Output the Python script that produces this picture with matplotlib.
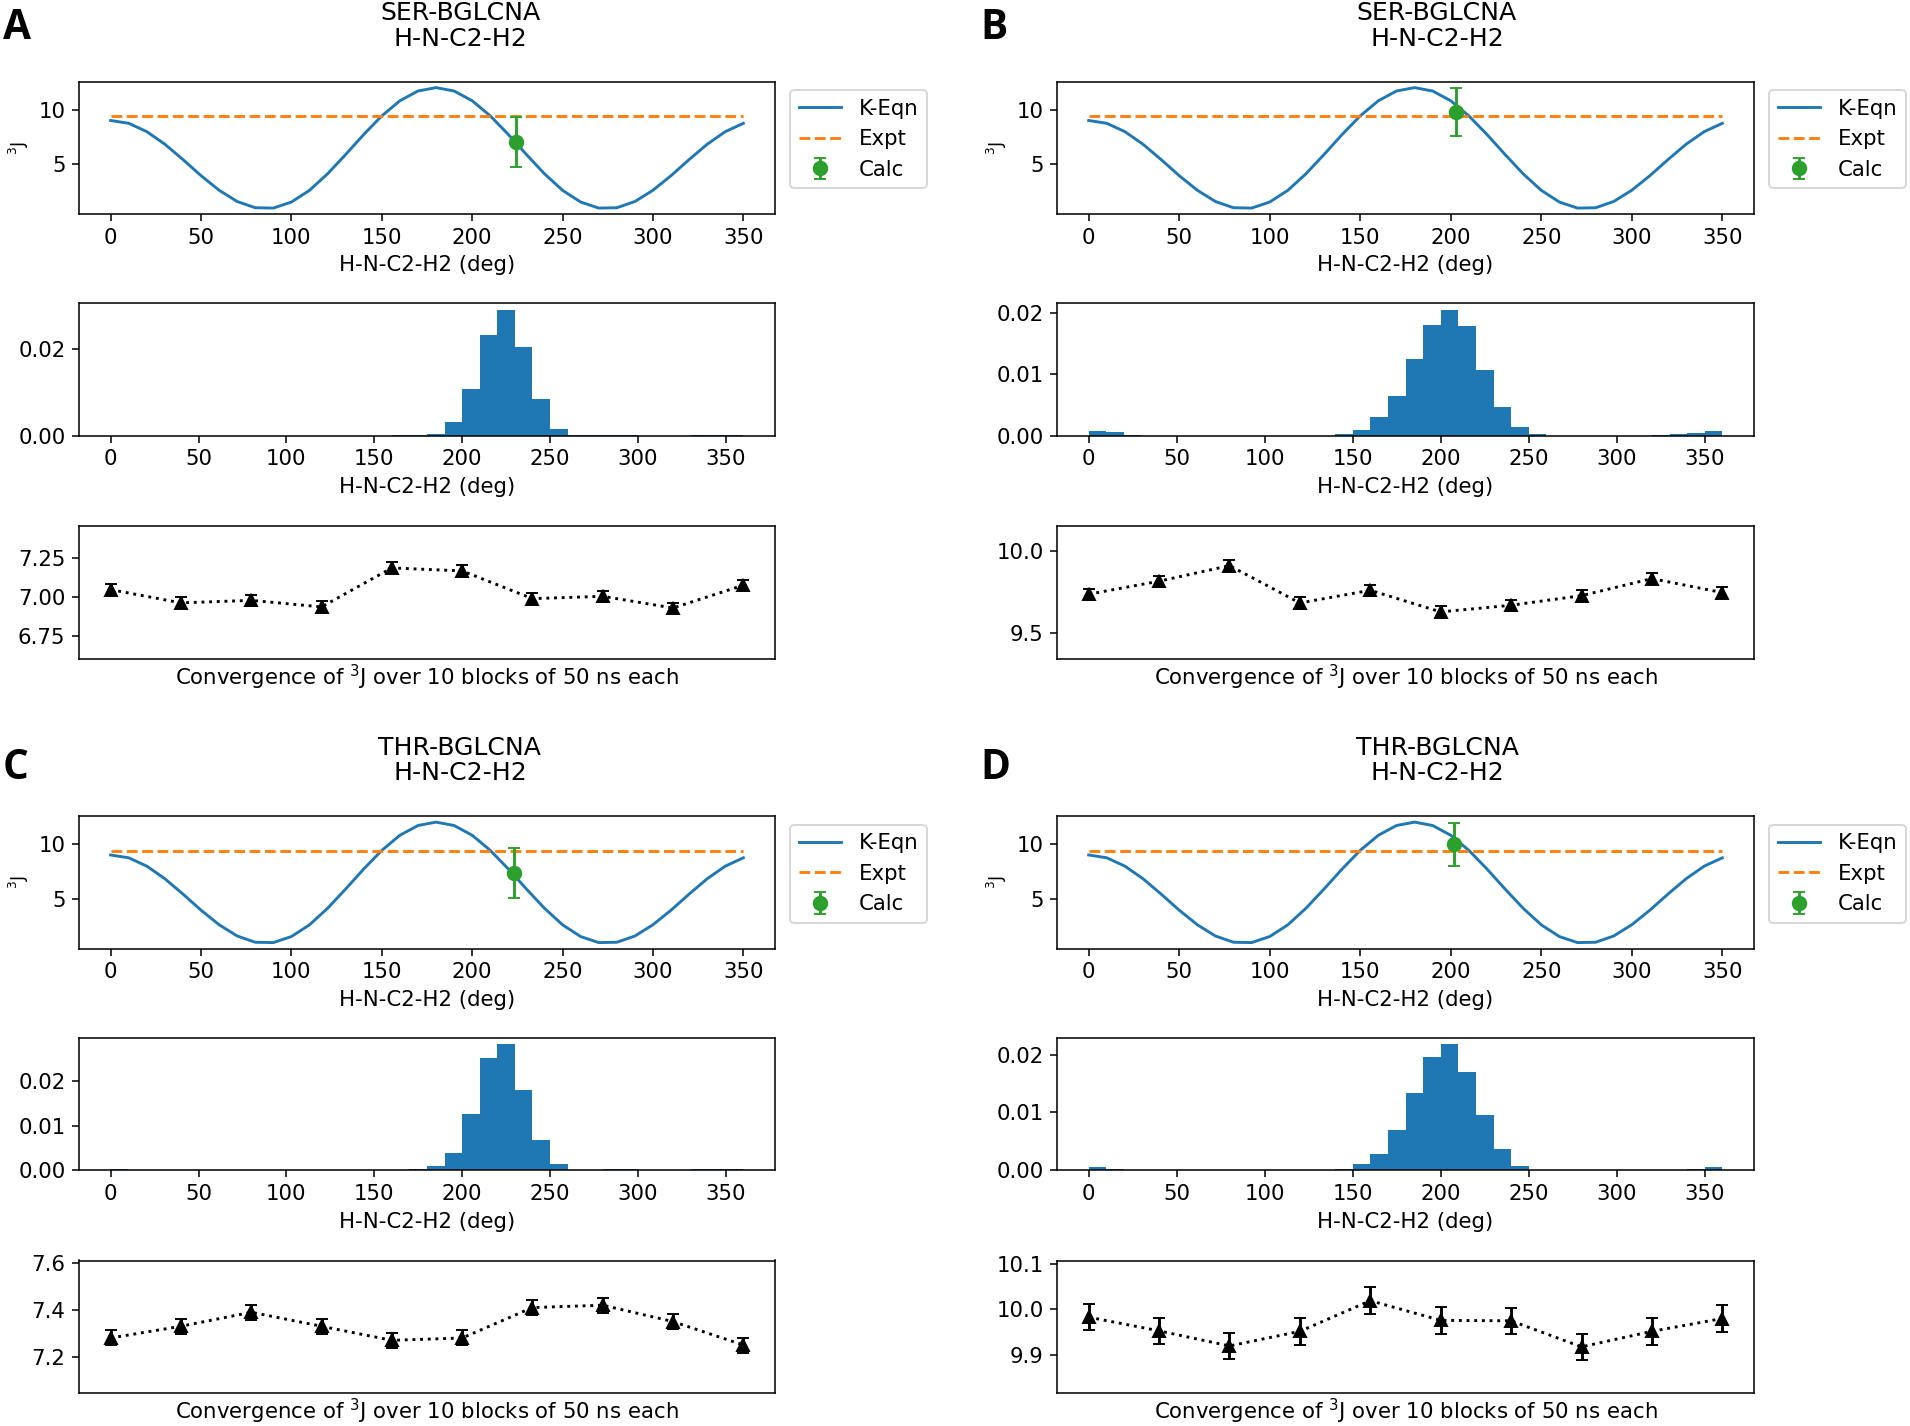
import matplotlib.pyplot as plt
import numpy as np

DPI = 139
W, H = 1910, 1426
plt.rcParams["font.size"] = 11

# ---- data ----
angles = np.arange(0, 360, 10)
bin_edges = np.arange(0, 370, 10)
blocks = np.arange(10)

# Karplus curve sampled every 10 deg
karplus_j = [9.00, 8.74, 7.98, 6.83, 5.43, 3.96, 2.63, 1.60, 1.03, 1.00,
             1.55, 2.62, 4.13, 5.89, 7.72, 9.42, 10.80, 11.69, 12.00, 11.69,
             10.80, 9.42, 7.72, 5.89, 4.13, 2.62, 1.55, 1.00, 1.03, 1.60,
             2.63, 3.96, 5.43, 6.83, 7.98, 8.74]
expt_j = 9.4

panel_letters = ["A", "B", "C", "D"]
residues = ["SER-BGLCNA", "SER-BGLCNA", "THR-BGLCNA", "THR-BGLCNA"]
torsion = "H-N-C2-H2"

calc_angle = [224, 203, 223, 202]
calc_j = [7.03, 9.78, 7.33, 9.96]
calc_err = [2.3, 2.17, 2.3, 2.0]

# normalised histograms, 10 deg bins 0..360
hist_A = [0, 0, 0, 0, 0, 0, 0, 0, 0, 0,
          0, 0, 0, 0, 0, 0, 0.0001, 0.0002, 0.0005, 0.0031,
          0.0107, 0.0232, 0.0290, 0.0205, 0.0084, 0.0015, 0.0002, 0.0001, 0.0001, 0.0001,
          0, 0, 0, 0.0001, 0.0002, 0.0001]
hist_B = [0.0007, 0.00055, 0.0001, 0, 0, 0, 0, 0, 0, 0,
          0, 0, 0, 0, 0.0003, 0.0010, 0.0030, 0.0065, 0.0124, 0.0180,
          0.0205, 0.0178, 0.0107, 0.0046, 0.0014, 0.0003, 0, 0, 0, 0,
          0, 0, 0.0001, 0.0003, 0.0004, 0.0008]
hist_C = [0.0002, 0, 0, 0, 0, 0, 0, 0, 0, 0,
          0, 0, 0, 0, 0, 0.0001, 0.0001, 0.0002, 0.0009, 0.0039,
          0.0126, 0.0251, 0.0283, 0.0180, 0.0067, 0.0015, 0.0001, 0, 0.0002, 0.0002,
          0, 0, 0.0001, 0.0002, 0.0002, 0.0002]
hist_D = [0.0005, 0.0002, 0, 0, 0, 0, 0, 0, 0, 0,
          0, 0, 0, 0, 0.0002, 0.0011, 0.0029, 0.0070, 0.0134, 0.0195,
          0.0218, 0.0170, 0.0096, 0.0036, 0.0007, 0.0001, 0, 0, 0, 0,
          0, 0, 0, 0.0001, 0.0003, 0.0005]
hists = [hist_A, hist_B, hist_C, hist_D]

# block averages of 3J (10 blocks of 50 ns)
block_A = [7.045, 6.96, 6.976, 6.934, 7.184, 7.165, 6.987, 7.002, 6.927, 7.073]
block_B = [9.736, 9.816, 9.912, 9.682, 9.76, 9.627, 9.668, 9.727, 9.832, 9.746]
block_C = [7.28, 7.33, 7.39, 7.33, 7.27, 7.28, 7.41, 7.42, 7.35, 7.25]
block_D = [9.983, 9.953, 9.92, 9.952, 10.019, 9.976, 9.975, 9.918, 9.952, 9.98]
block_vals = [block_A, block_B, block_C, block_D]
block_err = [0.035, 0.035, 0.032, 0.029]
conv_ylim = [(6.603, 7.453), (9.34, 10.156), (7.045, 7.611), (9.817, 10.107)]

# ---- layout (pixels) ----
col_left = [79, 1057]
col_width = [696, 697]
row_shift = [0, 734.5]
ax_tops = [81.6, 303.3, 526]
ax_h = 132.5
title_cx = [460, 1437]
letter_x = [3, 980]
letter_top = [8, 748]

fig = plt.figure(figsize=(W / DPI, H / DPI), dpi=DPI)


def add_ax(left, top, w, h):
    return fig.add_axes([left / W, 1 - (top + h) / H, w / W, h / H])


for i in range(4):
    col, row = i % 2, i // 2
    x0, w, dy = col_left[col], col_width[col], row_shift[row]

    # Karplus curve
    ax1 = add_ax(x0, ax_tops[0] + dy, w, ax_h)
    ax1.plot(angles, karplus_j, color="C0", label="K-Eqn")
    ax1.plot(angles, [expt_j] * len(angles), "--", color="C1", label="Expt")
    ax1.errorbar(calc_angle[i], calc_j[i], yerr=calc_err[i], fmt="o",
                 color="C2", capsize=3, markersize=7, label="Calc")
    ax1.set_xlabel(torsion + " (deg)")
    ax1.set_ylabel("$^3$J", fontsize=9)
    ax1.legend(loc="upper left", bbox_to_anchor=(1.01, 1.0), borderaxespad=0.4)

    # dihedral distribution
    ax2 = add_ax(x0, ax_tops[1] + dy, w, ax_h)
    ax2.hist(bin_edges[:-1], bins=bin_edges, weights=hists[i], color="C0")
    ax2.set_xlabel(torsion + " (deg)")

    # block convergence
    ax3 = add_ax(x0, ax_tops[2] + dy, w, ax_h)
    ax3.errorbar(blocks, block_vals[i], yerr=block_err[i], fmt="^:",
                 color="k", capsize=3)
    ax3.set_ylim(conv_ylim[i])
    ax3.set_xticks([])
    ax3.set_xlabel("Convergence of $^3$J over 10 blocks of 50 ns each",
                   labelpad=2)

    fig.text(title_cx[col] / W, 1 - (26 + dy) / H, residues[i] + "\n" + torsion,
             ha="center", va="center", multialignment="center", fontsize=13,
             linespacing=1.1)
    fig.text(letter_x[col] / W, 1 - letter_top[row] / H, panel_letters[i],
             ha="left", va="top", fontsize=21, fontweight="bold",
             family="Open Sans")

fig.savefig("out.png", dpi=DPI)
